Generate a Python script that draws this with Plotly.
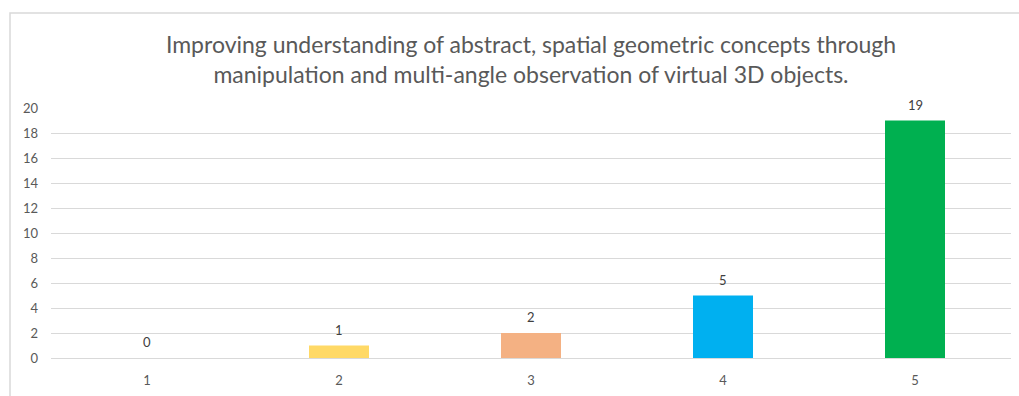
import plotly.graph_objects as go

categories = ["1", "2", "3", "4", "5"]
counts = [0, 1, 2, 5, 19]
bar_colors = ["#4472C4", "#FFD966", "#F4B183", "#00B0F0", "#00B050"]
y_ticks = [0, 2, 4, 6, 8, 10, 12, 14, 16, 18, 20]
title_text = ("Improving understanding of abstract, spatial geometric concepts through<br>"
              "manipulation and multi-angle observation of virtual 3D objects.")

FONT = "Lato, 'Open Sans', sans-serif"
W, H = 1019, 396
L, R, T, B = 51, 8, 108, 38
pw, ph = W - L - R, H - T - B

fig = go.Figure(
    go.Bar(
        x=categories,
        y=counts,
        marker=dict(color=bar_colors, line=dict(width=0)),
        width=0.3125,
        hoverinfo="x+y",
    )
)

# Value labels above each bar (category axis: position by index)
for idx, val in enumerate(counts):
    fig.add_annotation(
        x=idx, y=val, text=str(val), showarrow=False,
        yanchor="bottom", yshift=6,
        font=dict(family=FONT, size=13, color="#404040"),
    )

# Light outer chart frame
fig.add_shape(
    type="rect", xref="paper", yref="paper",
    x0=(10 - L) / pw, x1=(1030 - L) / pw,
    y0=-(410 - (H - B)) / ph, y1=((H - B) - 13) / ph,
    line=dict(color="#D9D9D9", width=1.5), layer="below",
)

fig.update_layout(
    width=W, height=H,
    margin=dict(l=L, r=R, t=T, b=B),
    paper_bgcolor="white", plot_bgcolor="white",
    showlegend=False,
    title=dict(
        text=title_text, x=0.5, xanchor="center", xref="paper",
        y=1 - 53 / H, yanchor="middle",
        font=dict(family=FONT, size=23, color="#595959"),
    ),
    xaxis=dict(
        type="category", categoryorder="array", categoryarray=categories,
        range=[-0.5, len(categories) - 0.5],
        showgrid=False, showline=False, zeroline=False, ticks="",
        tickfont=dict(family=FONT, size=13, color="#595959"),
        ticklabelstandoff=13,
    ),
    yaxis=dict(
        range=[0, 20], tickvals=y_ticks,
        showgrid=True, gridcolor="#D9D9D9", gridwidth=1,
        zeroline=True, zerolinecolor="#D9D9D9", zerolinewidth=1,
        showline=False, ticks="",
        tickfont=dict(family=FONT, size=13, color="#595959"),
        ticklabelstandoff=12,
    ),
    bargap=0.6875,
)

fig.write_html("out.html")
